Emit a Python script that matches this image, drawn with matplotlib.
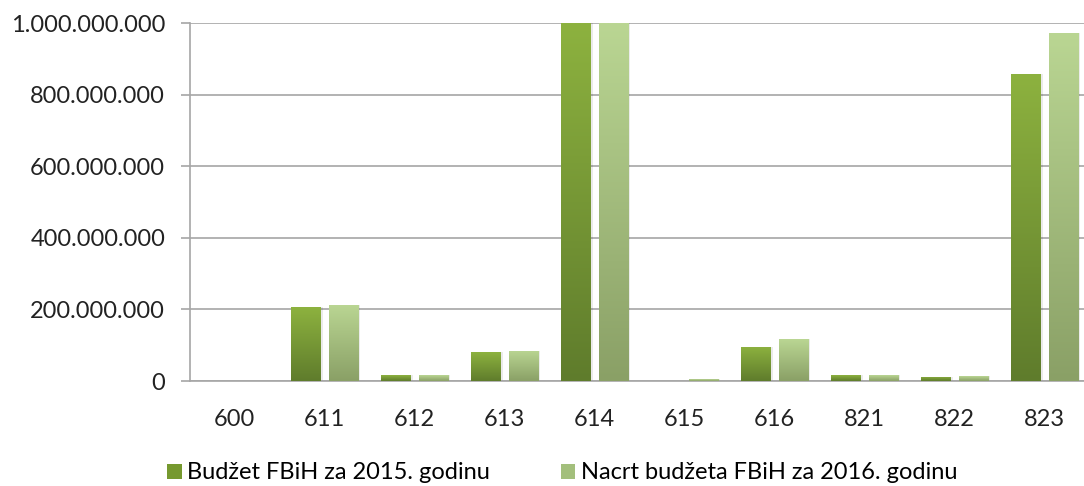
import numpy as np
import matplotlib.pyplot as plt
from matplotlib.patches import Rectangle
from matplotlib.colors import LinearSegmentedColormap

plt.rcParams["font.family"] = ["Lato", "DejaVu Sans"]

categories = ["600", "611", "612", "613", "614", "615", "616", "821", "822", "823"]
budget_2015 = [0, 206e6, 16e6, 81e6, 1.08e9, 0, 95e6, 16e6, 12e6, 858e6]
draft_2016 = [0, 213e6, 16e6, 85e6, 1.10e9, 5e6, 117e6, 16e6, 13e6, 973e6]
series_names = ["Budžet FBiH za 2015. godinu", "Nacrt budžeta FBiH za 2016. godinu"]
yticks = [0, 200e6, 400e6, 600e6, 800e6, 1000e6]

grad_dark = LinearSegmentedColormap.from_list("d", ["#5f7c2c", "#8db23f"])
grad_light = LinearSegmentedColormap.from_list("l", ["#8aa066", "#bad693"])

fig = plt.figure(figsize=(10.84, 4.86), dpi=100)
ax = fig.add_axes([189.5 / 1084, 1 - 381 / 486, 900 / 1084, 358 / 486])

ymax = 1e9
x = np.arange(len(categories))
width = 0.33
offset = 0.21
grad = np.linspace(0, 1, 256).reshape(-1, 1)


def draw_bars(xs, vals, cmap):
    for xi, v in zip(xs, vals):
        if v <= 0:
            continue
        top = min(v, ymax)
        # soft shadow
        ax.add_patch(Rectangle((xi - width / 2 + 0.012, 0), width + 0.012, top,
                               facecolor="#000000", alpha=0.08, lw=0, zorder=2))
        im = ax.imshow(grad, cmap=cmap, aspect="auto", origin="lower",
                       extent=(xi - width / 2, xi + width / 2, 0, top),
                       zorder=3)
        rect = Rectangle((xi - width / 2, 0), width, top, transform=ax.transData,
                         facecolor="none", lw=0)
        ax.add_patch(rect)
        im.set_clip_path(rect)


draw_bars(x - offset, budget_2015, grad_dark)
draw_bars(x + offset, draft_2016, grad_light)
ax.set_xlim(-0.5, len(categories) - 0.5)
ax.set_ylim(0, ymax)

ax.set_yticks(yticks)
ax.set_yticklabels([f"{int(v):,}".replace(",", ".") for v in yticks])
ax.set_xticks(x)
ax.set_xticklabels(categories)
ax.tick_params(axis="both", labelsize=17, labelcolor="#222222", color="#a6a6a6", width=1.2)
ax.tick_params(axis="x", length=0, pad=20)
ax.tick_params(axis="y", length=6.5, pad=11)
ax.yaxis.grid(True, color="#a6a6a6", lw=1.2)
ax.set_axisbelow(True)
for side in ["top", "right"]:
    ax.spines[side].set_visible(False)
for side in ["left", "bottom"]:
    ax.spines[side].set_color("#a6a6a6")
    ax.spines[side].set_linewidth(1.2)

handles = [Rectangle((0, 0), 1, 1, facecolor="#76992f"),
           Rectangle((0, 0), 1, 1, facecolor="#a3bf7c")]
fig.legend(handles, series_names, loc="center", bbox_to_anchor=(0.519, 0.027),
           ncol=2, frameon=False, fontsize=17, handlelength=0.6, handleheight=0.6,
           handletextpad=0.25, columnspacing=3.0, borderpad=0, borderaxespad=0)

fig.savefig("out.png", dpi=100)
